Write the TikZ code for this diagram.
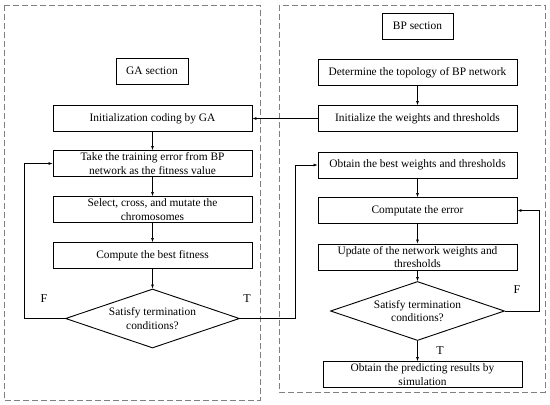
\documentclass[tikz,border=0pt]{standalone}
\usepackage{fontspec}
\setmainfont{Liberation Serif}
\usetikzlibrary{shapes.geometric, arrows.meta}

\begin{document}
\begin{tikzpicture}[x=1pt, y=-1pt,
        font=\fontsize{11.4}{13.5}\selectfont,
        box/.style={draw, line width=0.9pt, minimum width=199pt, minimum height=26pt, inner sep=1pt, align=center},
        decision/.style={draw, diamond, aspect=3, line width=0.9pt, minimum width=174pt, minimum height=59pt, inner sep=0pt, align=center},
        arr/.style={-{Latex[length=4pt,width=3pt]}, line width=0.6pt},
        sectframe/.style={draw=gray, dash pattern=on 6pt off 3pt, line width=0.6pt},
        flag/.style={font=\fontsize{12}{14}\selectfont}]
    \useasboundingbox (0,0) rectangle (550,405);

    % frames
    \draw[sectframe] (4,5) rectangle (260,400);
    \draw[sectframe] (279,5) rectangle (545,392);

    % GA side
    \node[box, minimum width=72pt] (gtitle) at (152,71) {GA section};
    \node[box] (ginit) at (152.5,118.5) {Initialization coding by GA};
    \node[box] (gtrain) at (152.5,163.5) {Take the training error from BP\\network as the fitness value};
    \node[box] (gselect) at (152.5,209.5) {Select, cross, and mutate the\\chromosomes};
    \node[box] (gbest) at (152.5,255.5) {Compute the best fitness};
    \node[decision] (gcheck) at (152.5,318.5) {Satisfy termination\\conditions?};
    \node[flag] (gf) at (44,299) {F};
    \node[flag] (gt) at (247,299) {T};

    % BP side
    \node[box, minimum width=71pt] (btitle) at (417.5,26) {BP section};
    \node[box] (btopo) at (417.5,72.5) {Determine the topology of BP network};
    \node[box] (binit) at (417.5,118.5) {Initialize the weights and thresholds};
    \node[box] (bbest) at (417.5,165) {Obtain the best weights and thresholds};
    \node[box] (berror) at (417.5,210.5) {Computate the error};
    \node[box] (bupdate) at (417.5,257) {Update of the network weights and\\thresholds};
    \node[decision] (bcheck) at (417.5,311) {Satisfy termination\\conditions?};
    \node[box] (bresult) at (422.5,374.5) {Obtain the predicting results by\\simulation};
    \node[flag] (bf) at (517,290) {F};
    \node[flag] (bt) at (440,351) {T};

    % loop points
    \coordinate (gloop) at (24,0);
    \coordinate (tloop) at (295,0);
    \coordinate (floop) at (539,0);

    % arrows
    \draw[arr] (ginit) -- (gtrain);
    \draw[arr] (gtrain) -- (gselect);
    \draw[arr] (gselect) -- (gbest);
    \draw[arr] (gbest) -- (gcheck);
    \draw[arr] (gcheck.west) -- (gcheck.west -| gloop) |- (gtrain.west);
    \draw[arr] (gcheck.east) -- (gcheck.east -| tloop) |- (bbest.west);
    \draw[arr] (btopo) -- (binit);
    \draw[arr] (binit) -- (ginit);
    \draw[arr] (bbest) -- (berror);
    \draw[arr] (berror) -- (bupdate);
    \draw[arr] (bupdate) -- (bcheck);
    \draw[arr] (bcheck.east) -- (bcheck.east -| floop) |- (berror.east);
    \draw[arr] (bcheck.south) -- (bcheck.south |- bresult.north);
\end{tikzpicture}
\end{document}
